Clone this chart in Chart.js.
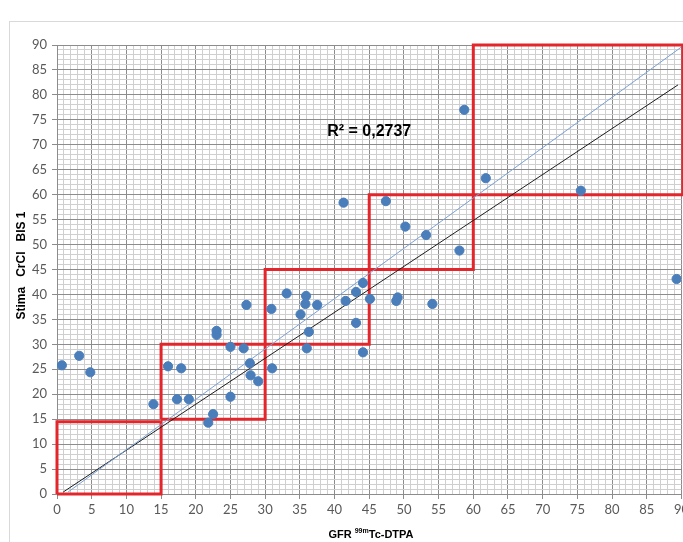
<!DOCTYPE html>
<html>
<head>
<meta charset="utf-8">
<script src="https://cdn.jsdelivr.net/npm/chart.js@4.4.1/dist/chart.umd.min.js"></script>
<style>
  html, body { margin: 0; padding: 0; background: #fff; overflow: hidden; }
  #wrap { position: relative; width: 683px; height: 542px; overflow: hidden; }
  #frame { position: absolute; left: 9px; top: 21px; width: 700px; height: 600px;
           border-left: 1px solid #d9d9d9; border-top: 1px solid #d9d9d9; }
  canvas { position: absolute; left: 0; top: 0; }
</style>
</head>
<body>
<div id="wrap">
  <div id="frame"></div>
  <!-- a bit wider than the window so the last x label gets cut like in the original -->
  <canvas id="chart" width="692" height="542"></canvas>
</div>
<script>
// measured values: GFR 99mTc-DTPA vs estimated CrCl (BIS 1)
const gfr  = [0.7, 3.2, 4.8, 13.9, 16.0, 17.9, 17.3, 19.0, 21.8, 22.5, 23.0, 23.0, 25.0, 25.0, 27.3, 26.9,
              27.8, 27.9, 29.0, 30.9, 31.0, 33.1, 35.9, 35.8, 35.1, 37.5, 36.3, 36.0, 41.6, 43.1, 44.1, 43.1,
              44.1, 45.1, 48.9, 49.1, 54.1, 41.3, 47.4, 50.2, 53.2, 58.0, 61.8, 58.7, 75.5, 89.3];
const crcl = [25.8, 27.7, 24.4, 18.0, 25.6, 25.2, 19.0, 19.0, 14.3, 16.0, 32.7, 31.9, 29.5, 19.5, 37.9, 29.2,
              26.2, 23.8, 22.6, 37.1, 25.2, 40.2, 39.7, 38.1, 36.0, 37.9, 32.5, 29.2, 38.7, 40.5, 42.3, 34.3,
              28.4, 39.1, 38.7, 39.4, 38.1, 58.4, 58.7, 53.6, 51.9, 48.8, 63.3, 77.0, 60.8, 43.1];

// two straight lines (end points)
const blackLineX = [0.9, 89.5];
const blackLineY = [0.4, 82.0];
const blueLineX  = [1.6, 90.0];
const blueLineY  = [0.4, 89.6];

// red classes: [x from, x to, y from, y to]
const classes = [
  [0, 15, 0, 14.5],
  [15, 30, 15, 30],
  [30, 45, 30, 45],
  [45, 60, 45, 60],
  [60, 90.2, 60, 90]
];

const axisMin = 0;
const axisMax = 90;
const majorStep = 5;
const r2Text = 'R² = 0,2737';
const yTitle = 'Stima   CrCl   BIS 1';
const xTitle = ['GFR ', '99m', 'Tc-DTPA'];

const points = gfr.map((x, i) => ({ x: x, y: crcl[i] }));
const toLine = (xs, ys) => xs.map((x, i) => ({ x: x, y: ys[i] }));

const boxSets = classes.map(c => ({
  data: [
    { x: c[0], y: c[2] }, { x: c[1], y: c[2] }, { x: c[1], y: c[3] },
    { x: c[0], y: c[3] }, { x: c[0], y: c[2] }
  ],
  showLine: true,
  borderColor: '#e3262b',
  borderWidth: 3,
  pointRadius: 0,
  borderJoinStyle: 'miter',
  clip: false,
  order: 3
}));

const isMajor = v => Math.abs(v % majorStep) < 1e-6;

const textPlugin = {
  id: 'texts',
  afterDraw(chart) {
    const { ctx, chartArea, scales } = chart;
    ctx.save();
    ctx.fillStyle = '#000';

    // R² label
    ctx.font = 'bold 16px "Liberation Sans"';
    ctx.textAlign = 'center';
    ctx.textBaseline = 'middle';
    ctx.fillText(r2Text, scales.x.getPixelForValue(45.0), scales.y.getPixelForValue(72.7));

    // y title
    ctx.save();
    ctx.font = 'bold 12px "Liberation Sans"';
    ctx.translate(22, (chartArea.top + chartArea.bottom) / 2 - 4);
    ctx.rotate(-Math.PI / 2);
    ctx.fillText(yTitle, 0, 0);
    ctx.restore();

    // x title with superscript
    const big = 'bold 11px "Liberation Sans"';
    const small = 'bold 7px "Liberation Sans"';
    ctx.textAlign = 'left';
    ctx.textBaseline = 'alphabetic';
    ctx.font = big;
    const w0 = ctx.measureText(xTitle[0]).width;
    const w2 = ctx.measureText(xTitle[2]).width;
    ctx.font = small;
    const w1 = ctx.measureText(xTitle[1]).width;
    let x = 371 - (w0 + w1 + w2) / 2;
    const base = 538;
    ctx.font = big;
    ctx.fillText(xTitle[0], x, base);
    x += w0;
    ctx.font = small;
    ctx.fillText(xTitle[1], x, base - 5);
    x += w1;
    ctx.font = big;
    ctx.fillText(xTitle[2], x, base);
    ctx.restore();
  }
};

const tickFont = { family: 'Lato', size: 13 };

const axis = (pos) => ({
  type: 'linear',
  position: pos,
  min: axisMin,
  max: axisMax,
  ticks: {
    stepSize: 1,
    autoSkip: false,
    maxRotation: 0,
    color: '#595959',
    font: tickFont,
    padding: pos === 'left' ? 5 : 3,
    callback: v => isMajor(v) ? String(v) : ''
  },
  grid: {
    color: c => isMajor(c.tick.value) ? '#8c8c8c' : '#cfcfcf',
    tickColor: c => isMajor(c.tick.value) ? '#8c8c8c' : 'rgba(0,0,0,0)',
    tickLength: 5,
    lineWidth: 1
  },
  border: { color: '#8c8c8c' },
  afterFit: s => {
    if (pos === 'left') { s.width = 57; }
    else { s.height = 48; }
  }
});

new Chart(document.getElementById('chart').getContext('2d'), {
  type: 'scatter',
  data: {
    datasets: [
      {
        data: points,
        backgroundColor: '#4a7ebb',
        borderColor: '#4a7ebb',
        pointRadius: 4.6,
        pointHoverRadius: 4.6,
        order: 0
      },
      {
        data: toLine(blueLineX, blueLineY),
        showLine: true,
        borderColor: '#7ba0d4',
        borderWidth: 1,
        pointRadius: 0,
        order: 1
      },
      {
        data: toLine(blackLineX, blackLineY),
        showLine: true,
        borderColor: '#1e1e1e',
        borderWidth: 1,
        pointRadius: 0,
        order: 2
      },
      ...boxSets
    ]
  },
  options: {
    responsive: false,
    animation: false,
    devicePixelRatio: 1,
    layout: { padding: { left: 0, top: 45, right: 0, bottom: 0 } },
    plugins: {
      legend: { display: false },
      tooltip: { enabled: false }
    },
    scales: {
      x: axis('bottom'),
      y: axis('left')
    }
  },
  plugins: [textPlugin]
});
</script>
</body>
</html>
